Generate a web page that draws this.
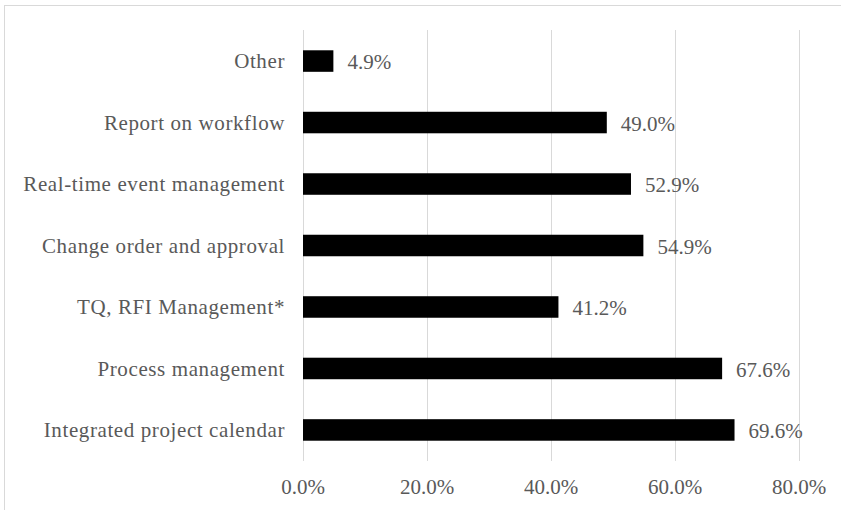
<!DOCTYPE html>
<html>
<head>
<meta charset="utf-8">
<script src="https://cdn.jsdelivr.net/npm/d3@7"></script>
<style>
  body { margin: 0; background: #fff; }
  text { font-family: "Liberation Serif", "Times New Roman", serif; }
</style>
</head>
<body>
<script>
// data
const categories = [
  "Other",
  "Report on workflow",
  "Real-time event management",
  "Change order and approval",
  "TQ, RFI Management*",
  "Process management",
  "Integrated project calendar",
];
const values = [4.9, 49.0, 52.9, 54.9, 41.2, 67.6, 69.6];
const ticks = [0, 20, 40, 60, 80];

const width = 841;
const height = 510;
const plot = { top: 30, bottom: 461, left: 303, right: 799 };

const svg = d3
  .select("body")
  .append("svg")
  .attr("width", width)
  .attr("height", height);

// chart border (only top and left edges fall inside the picture)
svg
  .append("rect")
  .attr("x", 4.5)
  .attr("y", 5.5)
  .attr("width", width)
  .attr("height", height)
  .attr("fill", "none")
  .attr("stroke", "#d9d9d9");

const x = d3
  .scaleLinear()
  .domain([0, 80])
  .range([plot.left, plot.right]);

const y = d3
  .scaleBand()
  .domain(categories)
  .range([plot.top, plot.bottom])
  .paddingInner(0.65)
  .paddingOuter(0.33);

// vertical gridlines
svg
  .selectAll("line.grid")
  .data(ticks)
  .join("line")
  .attr("class", "grid")
  .attr("x1", (d) => Math.round(x(d)) + 0.5)
  .attr("x2", (d) => Math.round(x(d)) + 0.5)
  .attr("y1", plot.top)
  .attr("y2", plot.bottom)
  .attr("stroke", "#d9d9d9");

// bars
svg
  .selectAll("rect.bar")
  .data(values)
  .join("rect")
  .attr("class", "bar")
  .attr("x", x(0))
  .attr("y", (d, i) => y(categories[i]))
  .attr("width", (d) => x(d) - x(0))
  .attr("height", y.bandwidth())
  .attr("fill", "#000");

// value labels
svg
  .selectAll("text.val")
  .data(values)
  .join("text")
  .attr("class", "val")
  .attr("x", (d) => x(d) + 14)
  .attr("y", (d, i) => y(categories[i]) + y.bandwidth() / 2 + 1)
  .attr("dy", "0.35em")
  .attr("font-size", "21px")
  .attr("fill", "#595959")
  .text((d) => d.toFixed(1) + "%");

// category labels
svg
  .selectAll("text.cat")
  .data(categories)
  .join("text")
  .attr("class", "cat")
  .attr("x", 285)
  .attr("y", (d) => y(d) + y.bandwidth() / 2)
  .attr("dy", "0.35em")
  .attr("text-anchor", "end")
  .attr("font-size", "21px")
  .attr("letter-spacing", "0.6px")
  .attr("fill", "#595959")
  .text((d) => d);

// x tick labels
svg
  .selectAll("text.tick")
  .data(ticks)
  .join("text")
  .attr("class", "tick")
  .attr("x", (d) => x(d))
  .attr("y", 487)
  .attr("dy", "0.35em")
  .attr("text-anchor", "middle")
  .attr("font-size", "21px")
  .attr("fill", "#595959")
  .text((d) => d.toFixed(1) + "%");
</script>
</body>
</html>
